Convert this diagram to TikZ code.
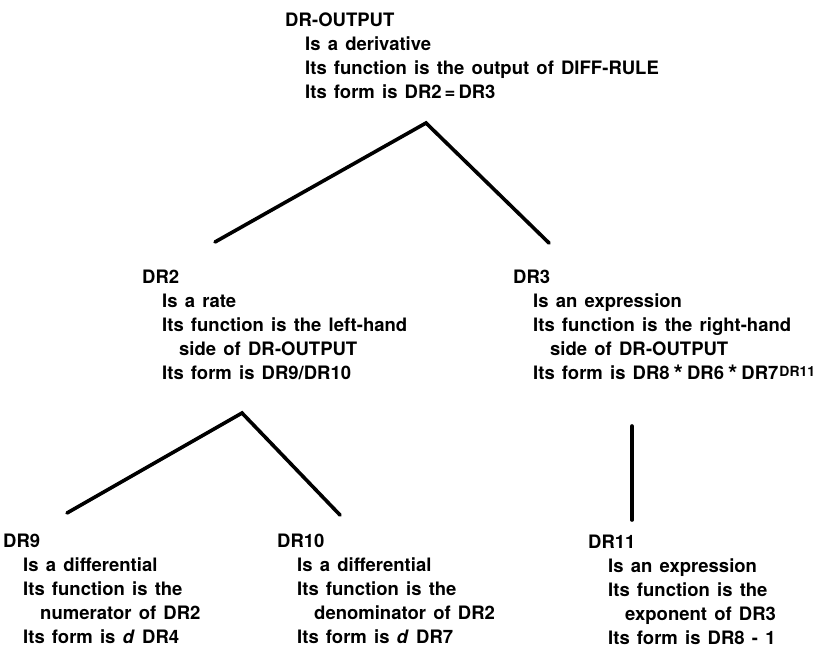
\documentclass[tikz,border=0pt]{standalone}
\usepackage{fontspec}
\setmainfont{TeX Gyre Heros}
\newcommand{\indA}{\hspace*{20pt}}
\newcommand{\indB}{\hspace*{37pt}}
\newcommand{\starop}{\hspace{4pt}\raisebox{-3pt}{\scalebox{1.3}{*}}\hspace{4pt}}
\newcommand{\eqop}{\hspace{3pt}=\hspace{3pt}}
\newcommand{\blockfont}{\fontsize{18.5}{24}\selectfont\bfseries\spaceskip=7.2pt plus 1pt minus 1pt\relax}
\newcommand{\blockfontb}{\fontsize{18.5}{24.2}\selectfont\bfseries\spaceskip=7.2pt plus 1pt minus 1pt\relax}
\begin{document}
\begin{tikzpicture}[x=1pt,y=-1pt,
  conn/.style={line width=3.6pt, line cap=round, line join=miter},
  blk/.style={anchor=base west, inner sep=0pt, font=\blockfont},
  blkb/.style={blk, font=\blockfontb}]
\useasboundingbox (0,0) rectangle (837,648);

\node[blk] (out) at (285,26) {\begin{tabular}[t]{@{}l@{}}
DR-OUTPUT\\
\indA Is a derivative\\
\indA Its function is the output of DIFF-RULE\\
\indA Its form is DR2\eqop{}DR3
\end{tabular}};

\node[blk] (dr2) at (142,283) {\begin{tabular}[t]{@{}l@{}}
DR2\\
\indA Is a rate\\
\indA Its function is the left-hand\\
\indB side of DR-OUTPUT\\
\indA Its form is DR9/DR10
\end{tabular}};

\node[blk] (dr3) at (513,283) {\begin{tabular}[t]{@{}l@{}}
DR3\\
\indA Is an expression\\
\indA Its function is the right-hand\\
\indB side of DR-OUTPUT\\
\indA Its form is DR8\starop{}DR6\starop{}DR7\hspace{1pt}\raisebox{2.5pt}{\fontsize{14}{14}\selectfont DR11}
\end{tabular}};

\node[blkb] (dr9) at (3,547) {\begin{tabular}[t]{@{}l@{}}
DR9\\
\indA Is a differential\\
\indA Its function is the\\
\indB numerator of DR2\\
\indA Its form is \textit{d} DR4
\end{tabular}};

\node[blkb] (dr10) at (277,547) {\begin{tabular}[t]{@{}l@{}}
DR10\\
\indA Is a differential\\
\indA Its function is the\\
\indB denominator of DR2\\
\indA Its form is \textit{d} DR7
\end{tabular}};

\node[blkb] (dr11) at (588,548) {\begin{tabular}[t]{@{}l@{}}
DR11\\
\indA Is an expression\\
\indA Its function is the\\
\indB exponent of DR3\\
\indA Its form is DR8 - 1
\end{tabular}};

\coordinate (a1) at (426,123);
\coordinate (l1) at (215,242);
\coordinate (r1) at (549,243);
\coordinate (a2) at (242,413);
\coordinate (l2) at (67,513);
\coordinate (r2) at (340,515);
\coordinate (t3) at (632,426);
\coordinate (b3) at (632,520);

\draw[conn] (l1) -- (a1) -- (r1);
\draw[conn] (l2) -- (a2) -- (r2);
\draw[conn] (t3) -- (b3);
\end{tikzpicture}
\end{document}
